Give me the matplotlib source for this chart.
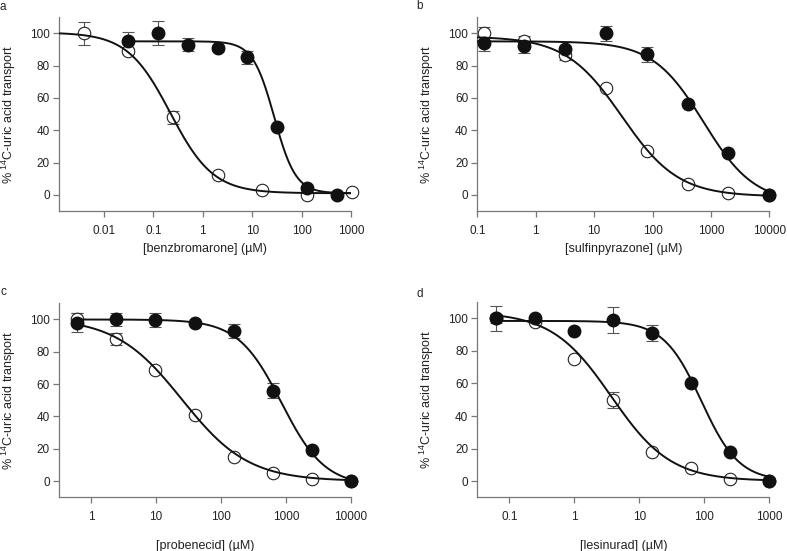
import numpy as np
import matplotlib.pyplot as plt
from matplotlib.ticker import FixedLocator, FixedFormatter, NullLocator

plt.rcParams['font.family'] = ['Liberation Sans', 'DejaVu Sans']
plt.rcParams['mathtext.fontset'] = 'custom'
plt.rcParams['mathtext.rm'] = 'Liberation Sans'

############################################
## Data

# a - benzbromarone
bz_conc_filled = [0.03125, 0.125, 0.5, 2, 8, 32, 128, 512]
bz_filled = [95, 100, 93, 91, 85, 42, 4, 0]
bz_filled_err = [6, 7.5, 4, 2, 4, 1, 1, 1]
bz_conc_open = [0.0039, 0.031, 0.25, 2, 16, 128, 1024]
bz_open = [100, 89, 48, 12, 3, 0, 2]
bz_open_err = [7, 2, 4, 1, 1, 1, 1]
bz_fit_filled = (95, 1, 28, 2.0)      # top, bottom, IC50, hill
bz_fit_open = (100.5, 1, 0.22, 1.0)

# b - sulfinpyrazone
sp_conc = [0.128, 0.64, 3.2, 16, 80, 400, 2000, 10000]
sp_filled = [94, 92, 90, 100, 87, 56, 26, 0]
sp_filled_err = [5, 4, 2, 4.6, 4.6, 1, 1, 1]
sp_open = [100, 95, 86.5, 66, 27, 7, 1, 0]
sp_open_err = [4, 3, 3, 1, 1, 1, 1, 1]
sp_fit_filled = (95, -5, 750, 1.0)
sp_fit_open = (98, -1, 30, 0.9)

# c - probenecid
pb_conc = [0.61, 2.44, 9.77, 39, 156, 625, 2500, 10000]
pb_filled = [98, 100, 99.5, 98, 93, 56, 19, 0]
pb_filled_err = [6, 4.3, 4.3, 1, 4.5, 4.5, 1, 1]
pb_open = [100, 88, 69, 41, 15, 5, 1, 0]
pb_open_err = [4, 3.5, 1, 1, 1, 1, 1, 1]
pb_fit_filled = (100, -3, 850, 1.3)
pb_fit_open = (101, 0, 25, 0.85)

# d - lesinurad
ls_conc = [0.061, 0.244, 0.977, 3.9, 15.6, 62.5, 250, 1000]
ls_filled = [100, 100, 92, 99, 91, 60, 18, 0]
ls_filled_err = [7.6, 1, 1, 8, 5, 1, 1, 1]
ls_open = [100, 98, 75, 50, 18, 8, 1, 0]
ls_open_err = [3, 1, 1, 5, 1, 1, 1, 1]
ls_fit_filled = (98.5, 0, 90, 1.5)
ls_fit_open = (104, 0, 3.7, 0.95)


def hill(x, top, bottom, ic50, n):
    return bottom + (top - bottom) / (1 + (x / ic50) ** n)


panels = [
    dict(letter='a', rect=[0.075, 0.617, 0.371, 0.352], xlim=(0.00123, 1000),
         ticks=[0.01, 0.1, 1, 10, 100, 1000], labels=['0.01', '0.1', '1', '10', '100', '1000'],
         xlabel='[benzbromarone] (µM)', xl_y=-0.165,
         cf=bz_conc_filled, yf=bz_filled, ef=bz_filled_err,
         co=bz_conc_open, yo=bz_open, eo=bz_open_err,
         fit_f=bz_fit_filled, fit_o=bz_fit_open,
         range_f=(0.031, 1000), range_o=(0.00123, 1000)),
    dict(letter='b', rect=[0.6065, 0.617, 0.371, 0.352], xlim=(0.1, 10000),
         ticks=[0.1, 1, 10, 100, 1000, 10000], labels=['0.1', '1', '10', '100', '1000', '10000'],
         xlabel='[sulfinpyrazone] (µM)', xl_y=-0.165,
         cf=sp_conc, yf=sp_filled, ef=sp_filled_err,
         co=sp_conc, yo=sp_open, eo=sp_open_err,
         fit_f=sp_fit_filled, fit_o=sp_fit_open,
         range_f=(0.1, 10000), range_o=(0.1, 10000)),
    dict(letter='c', rect=[0.075, 0.0975, 0.371, 0.352], xlim=(0.32, 10000),
         ticks=[1, 10, 100, 1000, 10000], labels=['1', '10', '100', '1000', '10000'],
         xlabel='[probenecid] (µM)', xl_y=-0.22,
         cf=pb_conc, yf=pb_filled, ef=pb_filled_err,
         co=pb_conc, yo=pb_open, eo=pb_open_err,
         fit_f=pb_fit_filled, fit_o=pb_fit_open,
         range_f=(0.61, 10000), range_o=(0.61, 10000)),
    dict(letter='d', rect=[0.6065, 0.0975, 0.371, 0.354], xlim=(0.032, 1000),
         ticks=[0.1, 1, 10, 100, 1000], labels=['0.1', '1', '10', '100', '1000'],
         xlabel='[lesinurad] (µM)', xl_y=-0.22,
         cf=ls_conc, yf=ls_filled, ef=ls_filled_err,
         co=ls_conc, yo=ls_open, eo=ls_open_err,
         fit_f=ls_fit_filled, fit_o=ls_fit_open,
         range_f=(0.061, 1000), range_o=(0.061, 1000)),
]

letter_pos = {'a': (3, 7), 'b': (420, 6), 'c': (3, 292), 'd': (420, 294)}

fig = plt.figure(figsize=(7.87, 5.51), dpi=100)
text_color = '#222222'
spine_color = '#777777'

for p in panels:
    ax = fig.add_axes(p['rect'])
    ax.set_xscale('log')

    # error bars (behind everything)
    ax.errorbar(p['co'], p['yo'], yerr=p['eo'], fmt='none', ecolor='#555555',
                elinewidth=0.8, capsize=4.5, capthick=0.8, zorder=1)
    ax.errorbar(p['cf'], p['yf'], yerr=p['ef'], fmt='none', ecolor='#555555',
                elinewidth=0.8, capsize=4.5, capthick=0.8, zorder=1)

    # open points under the curves, filled ones on top
    ax.plot(p['co'], p['yo'], 'o', ms=9, mfc='white', mec='#222222', mew=0.8,
            zorder=2, clip_on=False)

    xo = np.logspace(np.log10(p['range_o'][0]), np.log10(p['range_o'][1]), 300)
    ax.plot(xo, hill(xo, *p['fit_o']), color='#111111', lw=1.4, zorder=3)
    xf = np.logspace(np.log10(p['range_f'][0]), np.log10(p['range_f'][1]), 300)
    ax.plot(xf, hill(xf, *p['fit_f']), color='#111111', lw=1.4, zorder=3)

    ax.plot(p['cf'], p['yf'], 'o', ms=9, mfc='#111111', mec='#111111',
            zorder=4, clip_on=False)

    ax.set_xlim(*p['xlim'])
    ax.set_ylim(-10, 110)
    ax.xaxis.set_major_locator(FixedLocator(p['ticks']))
    ax.xaxis.set_major_formatter(FixedFormatter(p['labels']))
    ax.xaxis.set_minor_locator(NullLocator())
    ax.set_yticks([0, 20, 40, 60, 80, 100])

    for s in ['top', 'right']:
        ax.spines[s].set_visible(False)
    for s in ['left', 'bottom']:
        ax.spines[s].set_color(spine_color)
        ax.spines[s].set_linewidth(0.9)
    ax.tick_params(axis='both', direction='out', length=4, width=0.9,
                   color=spine_color, labelsize=8.5, labelcolor=text_color)
    ax.tick_params(axis='x', pad=6)
    ax.tick_params(axis='y', pad=2.5)

    ax.set_xlabel(p['xlabel'], fontsize=9, color=text_color)
    ax.xaxis.set_label_coords(0.5, p['xl_y'])
    ax.set_ylabel('% $\\mathregular{^{14}}$C-uric acid transport', fontsize=9, color=text_color)
    ax.yaxis.set_label_coords(-0.14, 0.5)

    lx, ly = letter_pos[p['letter']]
    fig.text(lx / 787, 1 - ly / 551, p['letter'], fontsize=8.5, color=text_color,
             ha='center', va='center')

fig.savefig('out.png', dpi=100)
